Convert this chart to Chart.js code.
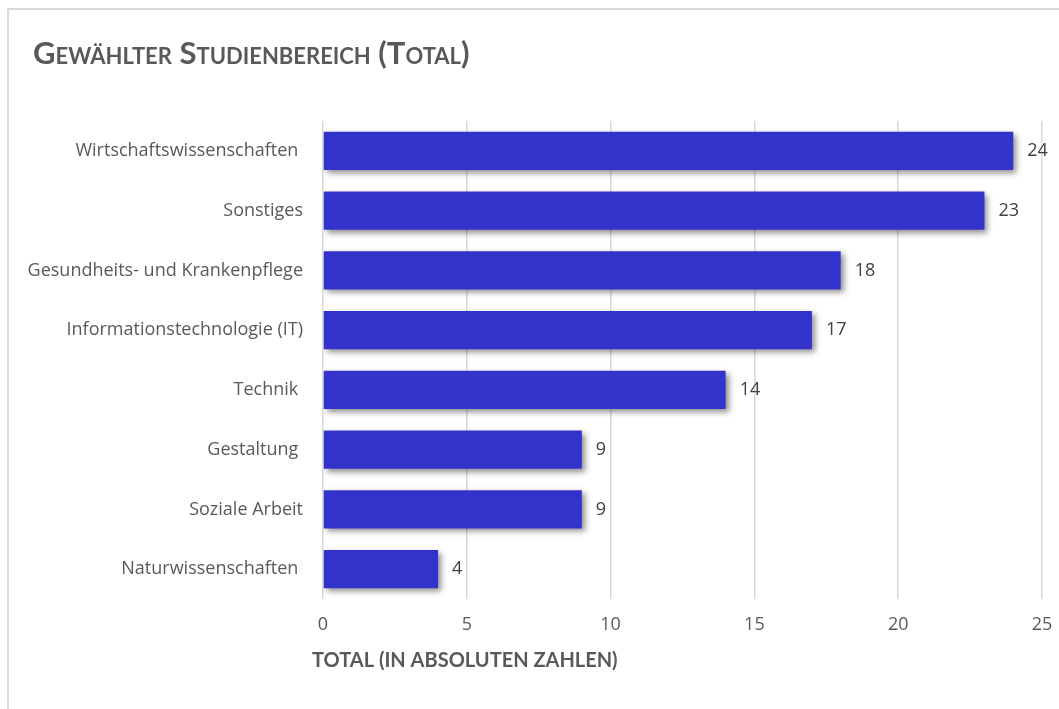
<!DOCTYPE html>
<html>
<head>
<meta charset="utf-8">
<script src="https://cdn.jsdelivr.net/npm/chart.js@4/dist/chart.umd.min.js"></script>
<style>
  html, body { margin: 0; padding: 0; background: #fff; overflow: hidden; }
  #frame { position: absolute; left: 7px; top: 8px; width: 1200px; height: 900px; border: 2px solid #d9d9d9; }
  #chart { position: absolute; left: 0; top: 0; }
</style>
</head>
<body>
<div id="frame"></div>
<canvas id="chart" width="1059" height="709"></canvas>
<script>
// data
const categories = ['Wirtschaftswissenschaften ', 'Sonstiges', 'Gesundheits- und Krankenpflege',
    'Informationstechnologie (IT)', 'Technik ', 'Gestaltung ', 'Soziale Arbeit', 'Naturwissenschaften '];
const counts = [24, 23, 18, 17, 14, 9, 9, 4];
const titleText = 'Gewählter Studienbereich (Total)';
const axisTitle = 'TOTAL (IN ABSOLUTEN ZAHLEN)';

const TEXT_FONT = "'Open Sans', 'Noto Sans', sans-serif";
const HEAD_FONT = "Lato, 'Noto Sans', sans-serif";
const GREY = '#595959';

// soft drop shadow under the bars
const barShadow = {
    id: 'barShadow',
    beforeDatasetDraw(chart) {
        const ctx = chart.ctx;
        ctx.save();
        ctx.shadowColor = 'rgba(0,0,0,0.45)';
        ctx.shadowBlur = 6;
        ctx.shadowOffsetX = 3;
        ctx.shadowOffsetY = 3;
    },
    afterDatasetDraw(chart) {
        chart.ctx.restore();
    }
};

// value labels at the end of each bar
const valueLabels = {
    id: 'valueLabels',
    afterDatasetsDraw(chart) {
        const ctx = chart.ctx;
        const meta = chart.getDatasetMeta(0);
        ctx.save();
        ctx.font = '18px ' + TEXT_FONT;
        ctx.fillStyle = '#404040';
        ctx.textAlign = 'left';
        ctx.textBaseline = 'middle';
        meta.data.forEach((bar, i) => {
            ctx.fillText(String(counts[i]), bar.x + 14, bar.y);
        });
        ctx.restore();
    }
};

// x axis caption, starts slightly left of the plot area like the original
const xCaption = {
    id: 'xCaption',
    afterLayout(chart) {
        // long category names reach past the left padding, don't clip them
        chart.scales.y.left = 0;
    },
    afterDraw(chart) {
        const ctx = chart.ctx;
        const xs = chart.scales.x;
        ctx.save();
        ctx.font = 'bold 20px ' + HEAD_FONT;
        ctx.fillStyle = GREY;
        ctx.textAlign = 'left';
        ctx.textBaseline = 'middle';
        ctx.fillText(axisTitle, xs.left - 11, xs.top + 62);
        ctx.restore();
    }
};

new Chart(document.getElementById('chart'), {
    type: 'bar',
    data: {
        labels: categories,
        datasets: [{
            data: counts,
            backgroundColor: '#3333cc',
            borderWidth: 0,
            categoryPercentage: 0.64,
            barPercentage: 1
        }]
    },
    options: {
        indexAxis: 'y',
        responsive: false,
        animation: false,
        layout: { padding: { left: 33, right: 17, top: 0, bottom: 0 } },
        plugins: {
            legend: { display: false },
            tooltip: { enabled: false },
            title: {
                display: true,
                text: titleText,
                align: 'start',
                color: GREY,
                font: { family: HEAD_FONT, size: 31, weight: 'small-caps bold', lineHeight: 1.2 },
                padding: { top: 35, bottom: 48.8 }
            }
        },
        scales: {
            x: {
                min: 0,
                max: 25,
                ticks: { stepSize: 5, color: GREY, font: { family: TEXT_FONT, size: 18 }, padding: 15 },
                grid: { color: '#d9d9d9', lineWidth: 1.5, drawTicks: false },
                border: { display: false },
                afterFit(scale) {
                    scale.height = 110;
                    scale.paddingLeft = 0;
                    scale.paddingRight = 0;
                }
            },
            y: {
                ticks: { color: GREY, font: { family: TEXT_FONT, size: 18 }, padding: 20 },
                grid: { display: false, drawTicks: false },
                border: { display: false },
                afterFit(scale) { scale.width = 290; }
            }
        }
    },
    plugins: [barShadow, valueLabels, xCaption]
});
</script>
</body>
</html>
